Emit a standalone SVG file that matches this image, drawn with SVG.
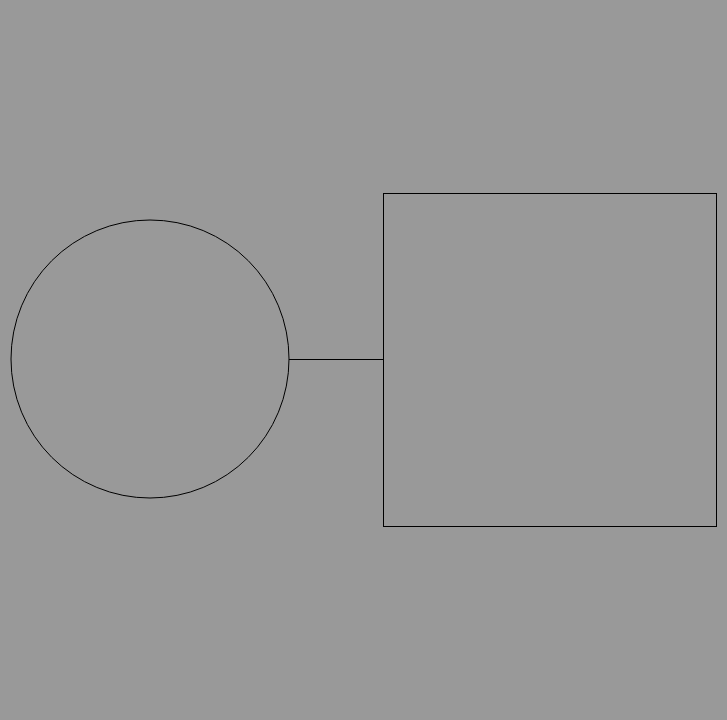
<svg xmlns="http://www.w3.org/2000/svg" width="727" height="720" viewBox="0 0 727 720">
<style>.s{fill:none;stroke:#000;stroke-width:1}</style>
<rect width="727" height="720" fill="#999999"/>
<g id="connectors"><line class="s" x1="289" y1="359.5" x2="383.5" y2="359.5"/></g>
<g id="circle"><circle class="s" cx="150" cy="359" r="139"/></g>
<g id="square"><rect class="s" x="383.5" y="193.5" width="333" height="333"/></g>
</svg>
